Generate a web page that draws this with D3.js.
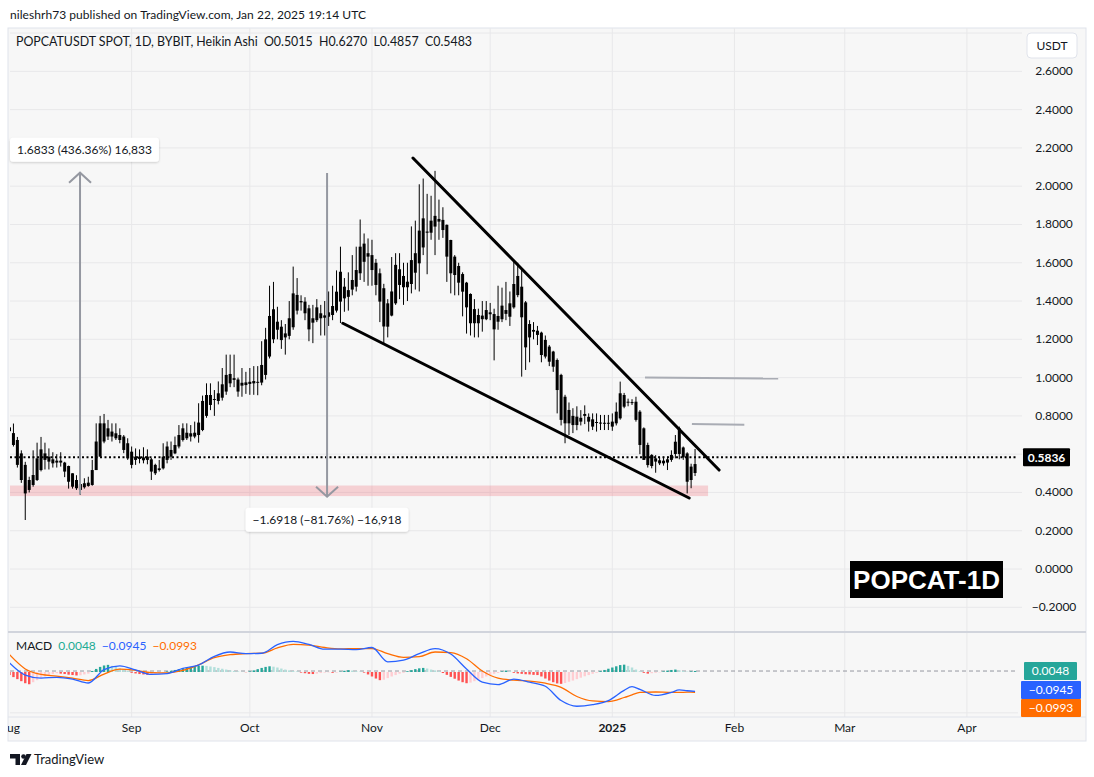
<!DOCTYPE html>
<html>
<head>
<meta charset="utf-8">
<script src="https://cdn.jsdelivr.net/npm/d3@7"></script>
<style>
  body { margin: 0; background: #fff; }
  svg text { font-family: "Trebuchet MS", Lato, "Noto Sans", sans-serif; }
</style>
</head>
<body>
<div id="chart"></div>
<script>
// ---- data ----
var startDay = Date.UTC(2024, 7, 1);   // first candle, Aug 1 2024
var lastDay = Date.UTC(2025, 0, 22);   // last candle, Jan 22 2025

var haOpen = [
  0.72,0.71,0.674,0.604,0.544,0.465,0.439,0.465,0.517,0.57,
  0.587,0.573,0.556,0.566,0.556,0.538,0.5,0.465,0.444,0.427,
  0.434,0.439,0.517,0.587,0.666,0.735,0.718,0.709,0.70,0.692,
  0.657,0.613,0.57,0.575,0.583,0.57,0.573,0.544,0.517,0.526,
  0.57,0.622,0.604,0.64,0.674,0.712,0.692,0.692,0.70,0.726,
  0.80,0.857,0.888,0.878,0.895,0.927,0.97,0.997,0.99,0.958,
  0.961,0.967,0.97,0.974,0.974,1.014,1.11,1.2,1.292,1.266,
  1.231,1.218,1.263,1.35,1.4,1.397,1.362,1.31,1.3,1.336,
  1.313,1.318,1.327,1.35,1.397,1.475,1.422,1.46,1.475,1.545,
  1.605,1.65,1.64,1.6,1.545,1.467,1.388,1.324,1.388,1.484,
  1.531,1.501,1.489,1.548,1.597,1.68,1.763,1.757,1.789,1.829,
  1.824,1.798,1.719,1.632,1.583,1.541,1.496,1.437,1.358,1.327,
  1.305,1.305,1.331,1.332,1.292,1.305,1.333,1.318,1.367,1.431,
  1.475,1.393,1.28,1.249,1.245,1.235,1.197,1.162,1.136,1.092,
  1.014,0.9,0.831,0.80,0.796,0.79,0.80,0.795,0.782,0.768,
  0.765,0.764,0.764,0.744,0.761,0.787,0.848,0.874,0.872,0.874,
  0.822,0.735,0.648,0.596,0.578,0.568,0.566,0.556,0.570,0.601,
  0.601,0.635,0.604,0.535,0.5015
];
var haHigh = [
  0.78,0.76,0.69,0.62,0.56,0.482,0.62,0.66,0.69,0.66,
  0.63,0.61,0.60,0.61,0.56,0.54,0.5,0.49,0.46,0.474,
  0.482,0.57,0.761,0.80,0.81,0.779,0.761,0.761,0.735,0.70,
  0.683,0.64,0.63,0.625,0.636,0.625,0.58,0.55,0.57,0.657,
  0.666,0.666,0.692,0.752,0.761,0.761,0.752,0.77,0.866,0.906,
  0.97,0.97,0.935,0.98,1.05,1.12,1.12,1.12,1.0,1.05,
  1.03,1.05,1.06,1.06,1.19,1.26,1.48,1.5,1.37,1.3,
  1.28,1.4,1.58,1.52,1.43,1.42,1.38,1.38,1.41,1.38,
  1.4,1.45,1.48,1.56,1.684,1.52,1.55,1.64,1.684,1.826,
  1.753,1.727,1.72,1.62,1.57,1.49,1.41,1.63,1.65,1.65,
  1.6,1.6,1.79,1.82,2.01,2.04,1.96,1.95,2.08,1.93,
  1.89,1.80,1.72,1.64,1.6,1.55,1.5,1.44,1.41,1.36,
  1.4,1.4,1.39,1.36,1.48,1.47,1.5,1.45,1.61,1.6,
  1.57,1.4,1.3,1.29,1.27,1.24,1.22,1.17,1.14,1.1,
  1.02,0.91,0.87,0.84,0.85,0.83,0.855,0.813,0.813,0.813,
  0.805,0.805,0.805,0.813,0.87,0.979,0.92,0.89,0.887,0.90,
  0.83,0.74,0.66,0.60,0.595,0.587,0.587,0.587,0.62,0.70,
  0.744,0.64,0.61,0.55,0.627
];
var haLow = [
  0.70,0.64,0.53,0.45,0.256,0.40,0.43,0.46,0.51,0.52,
  0.52,0.53,0.53,0.535,0.48,0.42,0.42,0.413,0.387,0.42,
  0.43,0.435,0.517,0.587,0.657,0.674,0.666,0.674,0.657,0.605,
  0.57,0.526,0.544,0.552,0.552,0.547,0.465,0.491,0.509,0.52,
  0.552,0.57,0.60,0.63,0.666,0.674,0.666,0.683,0.66,0.72,
  0.79,0.83,0.80,0.86,0.88,0.91,0.95,0.95,0.90,0.90,
  0.915,0.91,0.91,0.908,0.96,0.99,1.1,1.18,1.2,1.15,
  1.12,1.2,1.25,1.33,1.35,1.30,1.19,1.18,1.29,1.22,
  1.22,1.27,1.3,1.34,1.285,1.344,1.35,1.43,1.45,1.51,
  1.5,1.48,1.48,1.43,1.29,1.18,1.21,1.32,1.38,1.41,
  1.38,1.40,1.44,1.46,1.45,1.64,1.54,1.72,1.64,1.72,
  1.73,1.50,1.44,1.43,1.43,1.32,1.23,1.22,1.21,1.21,
  1.24,1.3,1.3,1.09,1.25,1.29,1.3,1.27,1.36,1.42,
  1.005,1.04,1.08,1.2,1.17,1.08,1.1,1.06,1.03,0.813,
  0.75,0.657,0.70,0.71,0.725,0.75,0.757,0.718,0.726,0.718,
  0.726,0.726,0.726,0.722,0.75,0.78,0.84,0.85,0.857,0.77,
  0.60,0.57,0.53,0.526,0.503,0.543,0.54,0.517,0.56,0.578,
  0.573,0.57,0.395,0.422,0.4857
];
var haClose = [
  0.74,0.648,0.544,0.465,0.395,0.413,0.491,0.578,0.625,0.604,
  0.561,0.552,0.566,0.556,0.509,0.456,0.43,0.422,0.413,0.448,
  0.451,0.517,0.666,0.761,0.761,0.692,0.692,0.683,0.674,0.622,
  0.578,0.544,0.587,0.587,0.568,0.587,0.509,0.5,0.526,0.587,
  0.64,0.587,0.648,0.70,0.735,0.683,0.709,0.712,0.765,0.878,
  0.909,0.909,0.883,0.918,0.965,1.014,1.019,0.988,0.927,0.973,
  0.975,0.978,0.982,0.978,1.066,1.2,1.322,1.357,1.25,1.196,
  1.21,1.31,1.44,1.432,1.393,1.336,1.252,1.287,1.367,1.31,
  1.325,1.341,1.374,1.449,1.553,1.414,1.457,1.51,1.562,1.684,
  1.70,1.632,1.562,1.484,1.397,1.267,1.266,1.45,1.589,1.566,
  1.472,1.472,1.614,1.65,1.768,1.832,1.757,1.82,1.845,1.815,
  1.771,1.632,1.545,1.536,1.496,1.449,1.367,1.284,1.284,1.284,
  1.324,1.353,1.341,1.252,1.322,1.376,1.353,1.388,1.489,1.531,
  1.315,1.158,1.21,1.24,1.223,1.118,1.11,1.083,1.057,0.935,
  0.779,0.761,0.761,0.752,0.752,0.77,0.81,0.77,0.744,0.765,
  0.764,0.763,0.762,0.77,0.822,0.918,0.909,0.87,0.870,0.779,
  0.648,0.57,0.543,0.538,0.561,0.552,0.552,0.573,0.596,0.665,
  0.735,0.583,0.456,0.465,0.5483
];

// MACD histogram, one value per candle, in thousandths
var macdHist = [
  -15,-25,-35,-45,-55,-60,-50,-40,-30,-22,
  -15,-10,-6,-8,-10,-13,-15,-17,-16,-12,
  -8,5,15,25,32,35,30,25,18,12,
  6,-4,-7,-10,-12,-14,-12,-8,-5,-3,
  3,6,10,14,18,22,25,28,30,31,
  30,27,24,20,16,12,8,5,3,1,
  -1,3,8,14,20,25,28,26,22,17,
  12,8,5,3,-3,-6,-9,-10,-8,-5,
  -3,-2,-4,-3,2,6,9,7,4,2,
  -3,-12,-22,-32,-40,-38,-30,-22,-15,-8,
  -4,4,9,14,18,20,17,12,8,4,
  -5,-14,-24,-33,-42,-50,-55,-52,-45,-37,
  -30,-22,-15,-9,-5,3,7,5,-4,-7,
  -9,-11,-12,-14,-15,-22,-32,-42,-50,-56,
  -58,-54,-48,-42,-35,-28,-21,-15,-9,-4,
  4,10,16,22,28,34,36,30,22,12,
  4,-4,-8,-6,-4,-2,3,7,10,12,
  9,5,2,3,5
];

// MACD and signal lines, sampled on these day offsets
var macdDays = [0,4,8,12,16,20,24,28,32,36,40,44,48,52,56,60,64,68,72,76,80,84,88,92,
  96,100,104,108,112,116,120,124,128,132,136,140,144,148,152,156,158,160,164,168,170,172,174];
var macdLine = [0.045,-0.015,-0.03,-0.026,-0.035,-0.054,0.012,0.03,0.010,-0.012,-0.008,0.018,
  0.034,0.077,0.098,0.09,0.092,0.134,0.150,0.135,0.112,0.112,0.11,0.12,
  0.05,0.058,0.09,0.115,0.088,0.015,-0.05,-0.062,-0.035,-0.05,-0.07,-0.14,
  -0.168,-0.16,-0.14,-0.09,-0.072,-0.085,-0.115,-0.1,-0.088,-0.092,-0.0945];
var signalLine = [0.085,0.015,-0.012,-0.02,-0.03,-0.042,-0.01,0.014,0.008,-0.003,-0.004,0.008,
  0.035,0.07,0.085,0.09,0.092,0.118,0.135,0.132,0.12,0.113,0.115,0.115,
  0.09,0.072,0.075,0.098,0.095,0.065,0.005,-0.03,-0.04,-0.045,-0.055,-0.075,
  -0.12,-0.142,-0.145,-0.125,-0.112,-0.1,-0.098,-0.1,-0.1,-0.099,-0.0993];

// drawings (day offset, price)
var wedgeUpper = [[102.4, 2.147], [180.1, 0.517]];
var wedgeLower = [[84.6, 1.284], [172.5, 0.371]];
var supportZone = {fromDay: -2, toDay: 177.3, low: 0.381, high: 0.436};
var levelLines = [
  {fromDay: 161.3, toDay: 195.1, from: 1.0, to: 0.995},
  {fromDay: 173.2, toDay: 186.5, from: 0.757, to: 0.754}
];
var measures = [
  {day: 17.9, from: 0.3875, to: 2.0708, label: "1.6833 (436.36%) 16,833"},
  {day: 80.6, from: 2.0693, to: 0.3775, label: "\u22121.6918 (\u221281.76%) \u221216,918"}
];
var lastPrice = 0.5836;
var priceTicks = [-0.2,0,0.2,0.4,0.8,1.0,1.2,1.4,1.6,1.8,2.0,2.2,2.4,2.6];
var gridPrices = [-0.2,0,0.2,0.4,0.6,0.8,1.0,1.2,1.4,1.6,1.8,2.0,2.2,2.4,2.6,2.8];
var macdValues = {hist: "0.0048", macd: "\u22120.0945", signal: "\u22120.0993"};

// ---- layout ----
var W = 1094, H = 777;
var plotL = 10, plotR = 1018, paneTop = 28, paneSep = 632, macdBottom = 717, panelBottom = 741;
var DAY = 86400000;

var svg = d3.select("#chart").append("svg")
    .attr("width", W).attr("height", H);

var defs = svg.append("defs");
defs.append("clipPath").attr("id", "clipPrice").append("rect")
    .attr("x", plotL).attr("y", paneTop).attr("width", plotR - plotL).attr("height", paneSep - paneTop);
defs.append("clipPath").attr("id", "clipMacd").append("rect")
    .attr("x", plotL).attr("y", paneSep).attr("width", plotR - plotL).attr("height", macdBottom - paneSep);
defs.append("clipPath").attr("id", "clipAxis").append("rect")
    .attr("x", 8).attr("y", macdBottom).attr("width", plotR - 8).attr("height", 30);
var shadow = defs.append("filter").attr("id", "shadow")
    .attr("x", "-20%").attr("y", "-40%").attr("width", "140%").attr("height", "180%");
shadow.append("feDropShadow").attr("dx", 0).attr("dy", 1).attr("stdDeviation", 1.2)
    .attr("flood-color", "#000").attr("flood-opacity", 0.18);

var x = d3.scaleUtc()
    .domain([new Date(startDay), new Date(Date.UTC(2025, 3, 1))])
    .range([9.5, 9.5 + 3.94 * 243]);
var dayX = function(d) { return x(new Date(startDay + d * DAY)); };

var y = d3.scaleLinear().domain([0, 1]).range([569, 377.6]);
var ym = d3.scaleLinear().domain([0, 0.1]).range([672, 651.6]);

// panel background + frame
svg.append("rect").attr("x", 8).attr("y", paneTop).attr("width", 1078).attr("height", panelBottom - paneTop)
    .attr("fill", "#f7f7f7").attr("stroke", "#e0e3eb");

// grid
var months = d3.utcMonth.range(new Date(startDay), new Date(Date.UTC(2025, 4, 1)));
var grid = svg.append("g");
grid.selectAll("line.v").data(months.filter(function(d) { return x(d) > plotL; })).join("line")
    .attr("class", "v")
    .attr("x1", function(d) { return x(d); }).attr("x2", function(d) { return x(d); })
    .attr("y1", paneTop).attr("y2", macdBottom)
    .attr("stroke", "#e8e8ea").attr("stroke-width", 1);
grid.selectAll("line.h").data(gridPrices).join("line")
    .attr("class", "h")
    .attr("x1", plotL).attr("x2", plotR + 4)
    .attr("y1", function(d) { return y(d); }).attr("y2", function(d) { return y(d); })
    .attr("stroke", "#e8e8ea").attr("stroke-width", 1);
grid.append("line").attr("x1", plotL).attr("x2", plotR)
    .attr("y1", ym(-0.2)).attr("y2", ym(-0.2)).attr("stroke", "#e8e8ea");

// separators
svg.append("line").attr("x1", 8).attr("x2", 1086).attr("y1", paneSep).attr("y2", paneSep)
    .attr("stroke", "#d1d4dc").attr("stroke-width", 2);
svg.append("line").attr("x1", 8).attr("x2", 1086).attr("y1", macdBottom).attr("y2", macdBottom)
    .attr("stroke", "#e0e3eb").attr("stroke-width", 1);

// ---- price pane ----
var price = svg.append("g").attr("clip-path", "url(#clipPrice)");

price.append("rect")
    .attr("x", dayX(supportZone.fromDay)).attr("width", dayX(supportZone.toDay) - dayX(supportZone.fromDay))
    .attr("y", y(supportZone.high)).attr("height", y(supportZone.low) - y(supportZone.high))
    .attr("fill", "#f23645").attr("opacity", 0.2);

var dates = d3.utcDay.range(new Date(startDay), new Date(lastDay + DAY));
var candles = dates.map(function(dt, i) {
  return {date: dt, o: haOpen[i], h: haHigh[i], l: haLow[i], c: haClose[i]};
});

// current price dotted line
price.append("line").attr("x1", plotL).attr("x2", plotR)
    .attr("y1", y(lastPrice)).attr("y2", y(lastPrice))
    .attr("stroke", "#000").attr("stroke-width", 2).attr("stroke-dasharray", "2,2.5");

price.selectAll("line.wick").data(candles).join("line")
    .attr("class", "wick")
    .attr("x1", function(d) { return x(d.date); }).attr("x2", function(d) { return x(d.date); })
    .attr("y1", function(d) { return y(d.h); }).attr("y2", function(d) { return y(d.l); })
    .attr("stroke", "#000").attr("stroke-width", 1);
price.selectAll("rect.body").data(candles).join("rect")
    .attr("class", "body")
    .attr("x", function(d) { return x(d.date) - 1.5; }).attr("width", 3)
    .attr("y", function(d) { return y(Math.max(d.o, d.c)); })
    .attr("height", function(d) { return Math.max(1, Math.abs(y(d.o) - y(d.c))); })
    .attr("fill", "#000");

// wedge
var wline = d3.line().x(function(d) { return dayX(d[0]); }).y(function(d) { return y(d[1]); });
[wedgeUpper, wedgeLower].forEach(function(pts) {
  price.append("path").attr("d", wline(pts)).attr("fill", "none")
      .attr("stroke", "#000").attr("stroke-width", 3).attr("stroke-linecap", "round");
});

// horizontal level lines
price.selectAll("line.level").data(levelLines).join("line")
    .attr("class", "level")
    .attr("x1", function(d) { return dayX(d.fromDay); }).attr("x2", function(d) { return dayX(d.toDay); })
    .attr("y1", function(d) { return y(d.from); }).attr("y2", function(d) { return y(d.to); })
    .attr("stroke", "#a9acb4").attr("stroke-width", 2);

// measure arrows
measures.forEach(function(m) {
  var mx = dayX(m.day), y0 = y(m.from), y1 = y(m.to);
  var dir = y1 < y0 ? 1 : -1;
  price.append("line").attr("x1", mx).attr("x2", mx).attr("y1", y0).attr("y2", y1)
      .attr("stroke", "#9598a1").attr("stroke-width", 2);
  price.append("path")
      .attr("d", "M" + (mx - 11) + "," + (y1 + dir * 10) + "L" + mx + "," + y1 + "L" + (mx + 11) + "," + (y1 + dir * 10))
      .attr("fill", "none").attr("stroke", "#9598a1").attr("stroke-width", 2);
  var t = svg.append("text").text(m.label).attr("font-size", 12).attr("fill", "#131722")
      .attr("text-anchor", "middle");
  var bw = t.node().getComputedTextLength() + 14, bh = 24;
  var by = dir > 0 ? y1 - 11 - bh : y1 + 11;
  var bx = Math.max(plotL, mx - bw / 2);
  svg.insert("rect", function() { return t.node(); })
      .attr("x", bx).attr("y", by).attr("width", bw).attr("height", bh).attr("rx", 3)
      .attr("fill", "#fff").attr("filter", "url(#shadow)");
  t.attr("x", bx + bw / 2).attr("y", by + 16.5);
});

// ---- price axis ----
var fmt = d3.format(".4f");
svg.append("g").selectAll("text").data(priceTicks).join("text")
    .attr("x", 1054).attr("y", function(d) { return y(d) + 4; })
    .attr("text-anchor", "middle").attr("font-size", 12).attr("fill", "#131722")
    .text(function(d) { return fmt(d); });

svg.append("rect").attr("x", 1027).attr("y", 33).attr("width", 50).attr("height", 25).attr("rx", 4)
    .attr("fill", "#fff").attr("stroke", "#e0e3eb");
svg.append("text").attr("x", 1052).attr("y", 50).attr("text-anchor", "middle")
    .attr("font-size", 12).attr("fill", "#131722").text("USDT");

svg.append("rect").attr("x", 1023).attr("y", y(lastPrice) - 9).attr("width", 47).attr("height", 18)
    .attr("rx", 1).attr("fill", "#000");
svg.append("text").attr("x", 1046.5).attr("y", y(lastPrice) + 4.5).attr("text-anchor", "middle")
    .attr("font-size", 12).attr("font-weight", "bold").attr("fill", "#fff").text(fmt(lastPrice));

// ---- MACD pane ----
var macd = svg.append("g").attr("clip-path", "url(#clipMacd)");
macd.append("line").attr("x1", plotL).attr("x2", plotR).attr("y1", ym(0.0048)).attr("y2", ym(0.0048))
    .attr("stroke", "#9598a1").attr("stroke-width", 1).attr("stroke-dasharray", "4,3");

var hist = macdHist.map(function(v, i) {
  var prev = i > 0 ? macdHist[i - 1] : 0;
  var col = v >= 0 ? (v >= prev ? "#26a69a" : "#b2dfdb") : (v < prev ? "#ff5252" : "#ffcdd2");
  return {date: dates[i], v: v / 1000, col: col};
});
macd.selectAll("rect.hist").data(hist).join("rect")
    .attr("class", "hist")
    .attr("x", function(d) { return x(d.date) - 1.2; }).attr("width", 2.4)
    .attr("y", function(d) { return Math.min(ym(d.v), ym(0)); })
    .attr("height", function(d) { return Math.abs(ym(d.v) - ym(0)); })
    .attr("fill", function(d) { return d.col; });

var mline = d3.line().curve(d3.curveMonotoneX)
    .x(function(d) { return dayX(d[0]); }).y(function(d) { return ym(d[1]); });
macd.append("path").attr("d", mline(macdDays.map(function(d, i) { return [d, signalLine[i]]; })))
    .attr("fill", "none").attr("stroke", "#ff6d00").attr("stroke-width", 1.3);
macd.append("path").attr("d", mline(macdDays.map(function(d, i) { return [d, macdLine[i]]; })))
    .attr("fill", "none").attr("stroke", "#2962ff").attr("stroke-width", 1.3);

var macdLegend = svg.append("text").attr("x", 16).attr("y", 650).attr("font-size", 12)
    .attr("xml:space", "preserve");
macdLegend.append("tspan").attr("fill", "#131722").text("MACD");
macdLegend.append("tspan").attr("fill", "#22ab94").attr("dx", 6).text(macdValues.hist);
macdLegend.append("tspan").attr("fill", "#2962ff").attr("dx", 6).text(macdValues.macd);
macdLegend.append("tspan").attr("fill", "#ff6d00").attr("dx", 6).text(macdValues.signal);

var macdTags = [
  {text: macdValues.hist, col: "#26a69a", y0: 662, x0: 1024, w: 53},
  {text: macdValues.macd, col: "#2962ff", y0: 681, x0: 1021, w: 60},
  {text: macdValues.signal, col: "#ff6d00", y0: 699, x0: 1021, w: 60}
];
macdTags.forEach(function(t) {
  svg.append("rect").attr("x", t.x0).attr("y", t.y0).attr("width", t.w).attr("height", 18)
      .attr("rx", 1).attr("fill", t.col);
  svg.append("text").attr("x", t.x0 + t.w / 2).attr("y", t.y0 + 13).attr("text-anchor", "middle")
      .attr("font-size", 12).attr("fill", "#fff").text(t.text);
});

// ---- time axis ----
svg.append("g").attr("clip-path", "url(#clipAxis)")
  .selectAll("text").data(months).join("text")
    .attr("x", function(d) { return x(d); }).attr("y", 732)
    .attr("text-anchor", "middle").attr("font-size", 12).attr("fill", "#131722")
    .attr("font-weight", function(d) { return d.getUTCMonth() === 0 ? "bold" : null; })
    .text(function(d) { return d.getUTCMonth() === 0 ? d.getUTCFullYear() : d3.utcFormat("%b")(d); });

// ---- header, legend, labels ----
svg.append("text").attr("x", 10).attr("y", 19).attr("font-size", 12).attr("fill", "#131722")
    .attr("textLength", 356).attr("lengthAdjust", "spacing")
    .text("nileshrh73 published on TradingView.com, Jan 22, 2025 19:14 UTC");
svg.append("text").attr("x", 16).attr("y", 46).attr("font-size", 12.4).attr("fill", "#131722")
    .attr("xml:space", "preserve").attr("textLength", 456).attr("lengthAdjust", "spacing")
    .text("POPCATUSDT SPOT, 1D, BYBIT, Heikin Ashi  O0.5015  H0.6270  L0.4857  C0.5483");

svg.append("rect").attr("x", 850).attr("y", 561).attr("width", 153).attr("height", 37).attr("fill", "#000");
svg.append("text").attr("x", 926.5).attr("y", 589).attr("text-anchor", "middle")
    .attr("font-size", 26).attr("font-weight", "bold").attr("fill", "#fff")
    .style("font-family", "'Liberation Sans', Arial, sans-serif")
    .text("POPCAT-1D");

// TradingView mark
var logo = svg.append("g").attr("fill", "#131722");
logo.append("path").attr("d", "M10,754h10v11h-4.5v-6.5h-5.5z");
logo.append("circle").attr("cx", 23.5).attr("cy", 756.5).attr("r", 2.3);
logo.append("path").attr("d", "M26.5,754h5l-5.5,11h-5z");
svg.append("text").attr("x", 34).attr("y", 764).attr("font-size", 13).attr("fill", "#131722")
    .text("TradingView");
</script>
</body>
</html>
